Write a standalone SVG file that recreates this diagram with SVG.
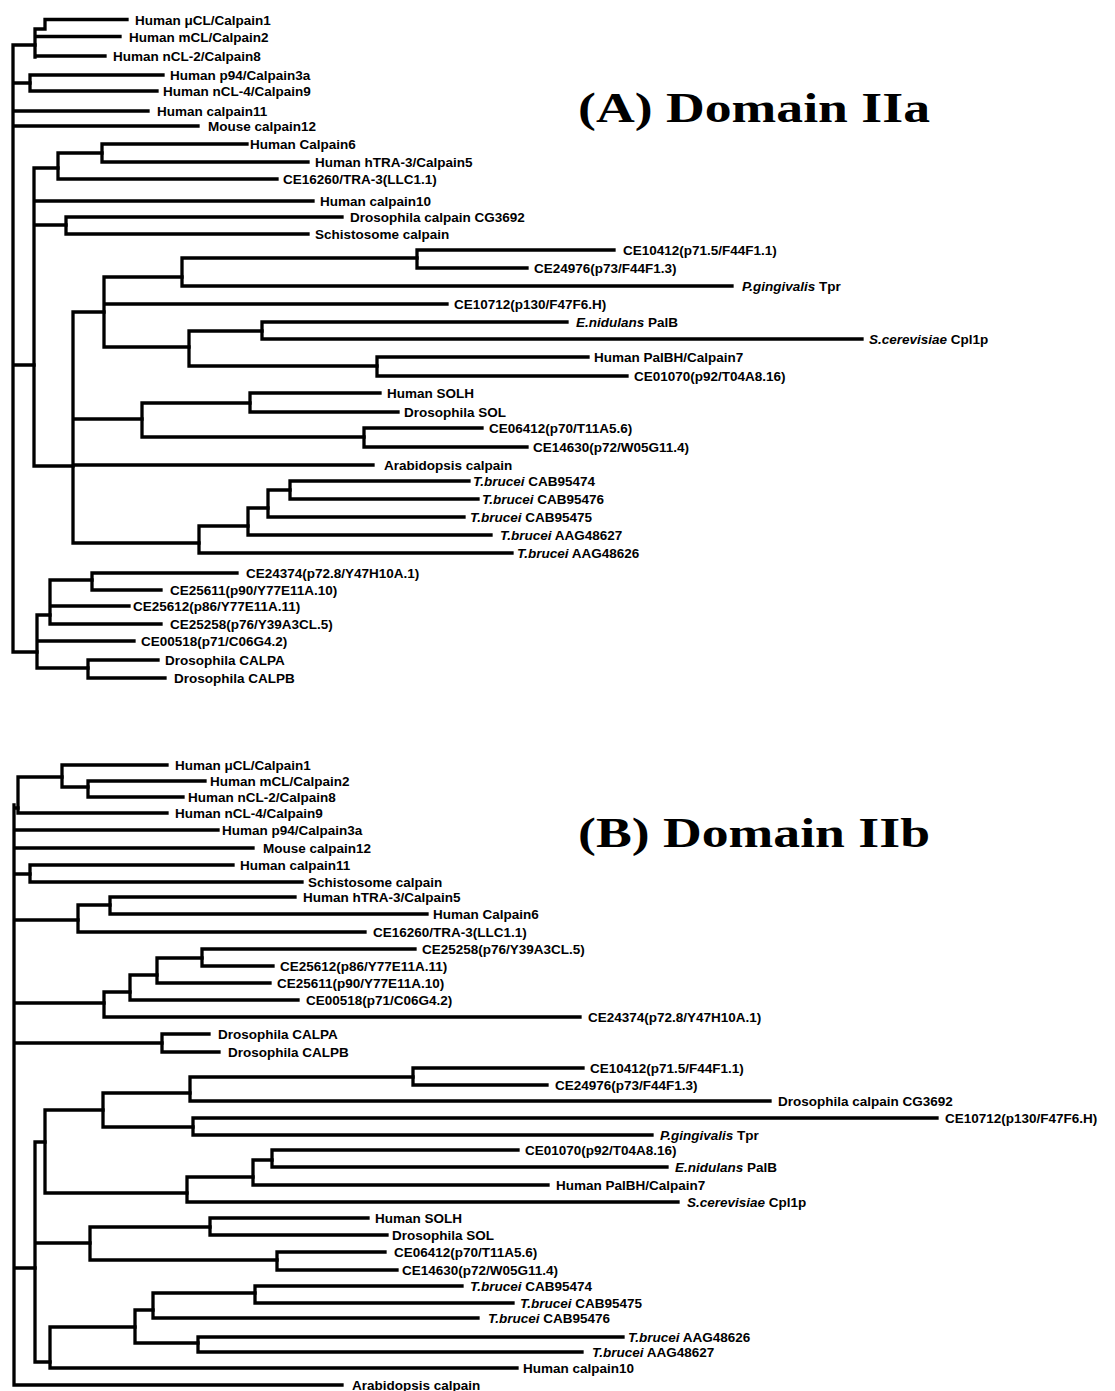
<svg xmlns="http://www.w3.org/2000/svg" width="1115" height="1391" viewBox="0 0 1115 1391">
<style>
.c{fill:none;stroke:#000;stroke-width:3.3;stroke-linecap:square}
.l{font-family:"Liberation Sans",Arial,sans-serif;font-weight:bold;font-size:13.5px;fill:#000}
.i{font-style:italic}
.t{font-family:"Liberation Serif","DejaVu Serif",serif;font-weight:bold;font-size:42px;fill:#000}
</style>
<rect width="1115" height="1391" fill="#fff"/>
<g id="title-a"><text class="t" x="578" y="122" textLength="352" lengthAdjust="spacingAndGlyphs">(A) Domain IIa</text></g>
<g id="title-b"><text class="t" x="578" y="847" textLength="352" lengthAdjust="spacingAndGlyphs">(B) Domain IIb</text></g>
<g id="connectors-a" class="c">
<path d="M13,45V652M13,45H35M13,83H30M13,365H34M13,652H37M13,111H148M13,126H198"/>
<path d="M35,29V57M35,29H45V19.5H127M35,36.5H120M35,56H105"/>
<path d="M30,75V91M30,75H163M30,91H157"/>
<path d="M34,168V466M34,168H58M34,201H313M34,225H66M34,466H73"/>
<path d="M58,153V179M58,153H102M58,179H277"/>
<path d="M102,144V162M102,144H247M102,162H308"/>
<path d="M66,217V234M66,217H342M66,234H308"/>
<path d="M73,312V543M73,312H104M73,419H142M73,465H373M73,543H199"/>
<path d="M104,277V347M104,277H182M104,304H447M104,347H189"/>
<path d="M182,258V286M182,258H417M182,286H732"/>
<path d="M417,250V268M417,250H614M417,268H527"/>
<path d="M189,331V366M189,331H262M189,366H377"/>
<path d="M262,322V339M262,322H567M262,339H862"/>
<path d="M377,357V376M377,357H588M377,376H627"/>
<path d="M142,403V437M142,403H250M142,437H364"/>
<path d="M250,393V412M250,393H380M250,412H398"/>
<path d="M364,428V447M364,428H482M364,447H527"/>
<path d="M199,526V553M199,526H248M199,553H512"/>
<path d="M248,508V535M248,508H268M248,535H491"/>
<path d="M268,490V517M268,490H290M268,517H464"/>
<path d="M290,481V499M290,481H469M290,499H478"/>
<path d="M37,615V668M37,615H50M37,641H134M37,668H88"/>
<path d="M50,580V624M50,580H92M50,606H129M50,624H161"/>
<path d="M92,573V590M92,573H237M92,590H161"/>
<path d="M88,660V678M88,660H158M88,678H165"/>
</g>
<g id="connectors-b" class="c">
<path d="M14,805V1385M14,808H18M14,830H218M14,848H253M14,874H30M14,920H78M14,1003H104M14,1043H162M14,1268H35M14,1385H342"/>
<path d="M18,777V813M18,777H62M18,813H167"/>
<path d="M62,765V787M62,765H167M62,787H88"/>
<path d="M88,781V797M88,781H205M88,797H183"/>
<path d="M30,865V882M30,865H233M30,882H302"/>
<path d="M78,905V932M78,905H110M78,932H365"/>
<path d="M110,897V914M110,897H295M110,914H427"/>
<path d="M104,992V1017M104,992H130M104,1017H580"/>
<path d="M130,975V1000M130,975H157M130,1000H298"/>
<path d="M157,958V983M157,958H202M157,983H270"/>
<path d="M202,949V966M202,949H415M202,966H273"/>
<path d="M162,1034V1052M162,1034H209M162,1052H219"/>
<path d="M35,1142V1362M35,1142H45M35,1243H90M35,1362H50"/>
<path d="M45,1110V1193M45,1110H103M45,1193H187"/>
<path d="M103,1093V1127M103,1093H190M103,1127H193"/>
<path d="M190,1077V1101M190,1077H413M190,1101H770"/>
<path d="M413,1068V1085M413,1068H583M413,1085H547"/>
<path d="M193,1118V1135M193,1118H937M193,1135H652"/>
<path d="M187,1177V1202M187,1177H253M187,1202H678"/>
<path d="M253,1160V1185M253,1160H272M253,1185H548"/>
<path d="M272,1150V1167M272,1150H518M272,1167H667"/>
<path d="M90,1227V1260M90,1227H210M90,1260H277"/>
<path d="M210,1218V1235M210,1218H368M210,1235H387"/>
<path d="M277,1252V1270M277,1252H385M277,1270H397"/>
<path d="M50,1327V1368M50,1327H135M50,1368H517"/>
<path d="M135,1310V1343M135,1310H153M135,1343H198"/>
<path d="M153,1293V1318M153,1293H255M153,1318H478"/>
<path d="M255,1286V1303M255,1286H462M255,1303H513"/>
<path d="M198,1337V1352M198,1337H623M198,1352H582"/>
</g>
<g id="leaves-a" class="l">
<g id="a-calpain1"><text x="135" y="24.5">Human μCL/Calpain1</text></g>
<g id="a-calpain2"><text x="129" y="41.5">Human mCL/Calpain2</text></g>
<g id="a-calpain8"><text x="113" y="61">Human nCL-2/Calpain8</text></g>
<g id="a-calpain3a"><text x="170" y="80">Human p94/Calpain3a</text></g>
<g id="a-calpain9"><text x="163" y="96">Human nCL-4/Calpain9</text></g>
<g id="a-calpain11"><text x="157" y="116">Human calpain11</text></g>
<g id="a-calpain12"><text x="208" y="131">Mouse calpain12</text></g>
<g id="a-calpain6"><text x="250" y="149">Human Calpain6</text></g>
<g id="a-calpain5"><text x="315" y="167">Human hTRA-3/Calpain5</text></g>
<g id="a-ce16260"><text x="283" y="184">CE16260/TRA-3(LLC1.1)</text></g>
<g id="a-calpain10"><text x="320" y="206">Human calpain10</text></g>
<g id="a-cg3692"><text x="350" y="222">Drosophila calpain CG3692</text></g>
<g id="a-schisto"><text x="315" y="239">Schistosome calpain</text></g>
<g id="a-ce10412"><text x="623" y="255">CE10412(p71.5/F44F1.1)</text></g>
<g id="a-ce24976"><text x="534" y="273">CE24976(p73/F44F1.3)</text></g>
<g id="a-pging"><text x="742" y="291"><tspan class="i">P.gingivalis</tspan> Tpr</text></g>
<g id="a-ce10712"><text x="454" y="309">CE10712(p130/F47F6.H)</text></g>
<g id="a-enid"><text x="576" y="327"><tspan class="i">E.nidulans</tspan> PalB</text></g>
<g id="a-scer"><text x="869" y="344"><tspan class="i">S.cerevisiae</tspan> Cpl1p</text></g>
<g id="a-calpain7"><text x="594" y="362">Human PalBH/Calpain7</text></g>
<g id="a-ce01070"><text x="634" y="381">CE01070(p92/T04A8.16)</text></g>
<g id="a-solh"><text x="387" y="398">Human SOLH</text></g>
<g id="a-sol"><text x="404" y="417">Drosophila SOL</text></g>
<g id="a-ce06412"><text x="489" y="433">CE06412(p70/T11A5.6)</text></g>
<g id="a-ce14630"><text x="533" y="452">CE14630(p72/W05G11.4)</text></g>
<g id="a-arab"><text x="384" y="470">Arabidopsis calpain</text></g>
<g id="a-tb74"><text x="473" y="486"><tspan class="i">T.brucei</tspan> CAB95474</text></g>
<g id="a-tb76"><text x="482" y="504"><tspan class="i">T.brucei</tspan> CAB95476</text></g>
<g id="a-tb75"><text x="470" y="522"><tspan class="i">T.brucei</tspan> CAB95475</text></g>
<g id="a-aag627"><text x="500" y="540"><tspan class="i">T.brucei</tspan> AAG48627</text></g>
<g id="a-aag626"><text x="517" y="558"><tspan class="i">T.brucei</tspan> AAG48626</text></g>
<g id="a-ce24374"><text x="246" y="578">CE24374(p72.8/Y47H10A.1)</text></g>
<g id="a-ce25611"><text x="170" y="595">CE25611(p90/Y77E11A.10)</text></g>
<g id="a-ce25612"><text x="133" y="611">CE25612(p86/Y77E11A.11)</text></g>
<g id="a-ce25258"><text x="170" y="629">CE25258(p76/Y39A3CL.5)</text></g>
<g id="a-ce00518"><text x="141" y="646">CE00518(p71/C06G4.2)</text></g>
<g id="a-calpa"><text x="165" y="665">Drosophila CALPA</text></g>
<g id="a-calpb"><text x="174" y="683">Drosophila CALPB</text></g>
</g>
<g id="leaves-b" class="l">
<g id="b-calpain1"><text x="175" y="770">Human μCL/Calpain1</text></g>
<g id="b-calpain2"><text x="210" y="786">Human mCL/Calpain2</text></g>
<g id="b-calpain8"><text x="188" y="802">Human nCL-2/Calpain8</text></g>
<g id="b-calpain9"><text x="175" y="818">Human nCL-4/Calpain9</text></g>
<g id="b-calpain3a"><text x="222" y="835">Human p94/Calpain3a</text></g>
<g id="b-calpain12"><text x="263" y="853">Mouse calpain12</text></g>
<g id="b-calpain11"><text x="240" y="870">Human calpain11</text></g>
<g id="b-schisto"><text x="308" y="887">Schistosome calpain</text></g>
<g id="b-calpain5"><text x="303" y="902">Human hTRA-3/Calpain5</text></g>
<g id="b-calpain6"><text x="433" y="919">Human Calpain6</text></g>
<g id="b-ce16260"><text x="373" y="937">CE16260/TRA-3(LLC1.1)</text></g>
<g id="b-ce25258"><text x="422" y="954">CE25258(p76/Y39A3CL.5)</text></g>
<g id="b-ce25612"><text x="280" y="971">CE25612(p86/Y77E11A.11)</text></g>
<g id="b-ce25611"><text x="277" y="988">CE25611(p90/Y77E11A.10)</text></g>
<g id="b-ce00518"><text x="306" y="1005">CE00518(p71/C06G4.2)</text></g>
<g id="b-ce24374"><text x="588" y="1022">CE24374(p72.8/Y47H10A.1)</text></g>
<g id="b-calpa"><text x="218" y="1039">Drosophila CALPA</text></g>
<g id="b-calpb"><text x="228" y="1057">Drosophila CALPB</text></g>
<g id="b-ce10412"><text x="590" y="1073">CE10412(p71.5/F44F1.1)</text></g>
<g id="b-ce24976"><text x="555" y="1090">CE24976(p73/F44F1.3)</text></g>
<g id="b-cg3692"><text x="778" y="1106">Drosophila calpain CG3692</text></g>
<g id="b-ce10712"><text x="945" y="1123">CE10712(p130/F47F6.H)</text></g>
<g id="b-pging"><text x="660" y="1140"><tspan class="i">P.gingivalis</tspan> Tpr</text></g>
<g id="b-ce01070"><text x="525" y="1155">CE01070(p92/T04A8.16)</text></g>
<g id="b-enid"><text x="675" y="1172"><tspan class="i">E.nidulans</tspan> PalB</text></g>
<g id="b-calpain7"><text x="556" y="1190">Human PalBH/Calpain7</text></g>
<g id="b-scer"><text x="687" y="1207"><tspan class="i">S.cerevisiae</tspan> Cpl1p</text></g>
<g id="b-solh"><text x="375" y="1223">Human SOLH</text></g>
<g id="b-sol"><text x="392" y="1240">Drosophila SOL</text></g>
<g id="b-ce06412"><text x="394" y="1257">CE06412(p70/T11A5.6)</text></g>
<g id="b-ce14630"><text x="402" y="1275">CE14630(p72/W05G11.4)</text></g>
<g id="b-tb74"><text x="470" y="1291"><tspan class="i">T.brucei</tspan> CAB95474</text></g>
<g id="b-tb75"><text x="520" y="1308"><tspan class="i">T.brucei</tspan> CAB95475</text></g>
<g id="b-tb76"><text x="488" y="1323"><tspan class="i">T.brucei</tspan> CAB95476</text></g>
<g id="b-aag626"><text x="628" y="1342"><tspan class="i">T.brucei</tspan> AAG48626</text></g>
<g id="b-aag627"><text x="592" y="1357"><tspan class="i">T.brucei</tspan> AAG48627</text></g>
<g id="b-calpain10"><text x="523" y="1373">Human calpain10</text></g>
<g id="b-arab"><text x="352" y="1390">Arabidopsis calpain</text></g>
</g>
</svg>
